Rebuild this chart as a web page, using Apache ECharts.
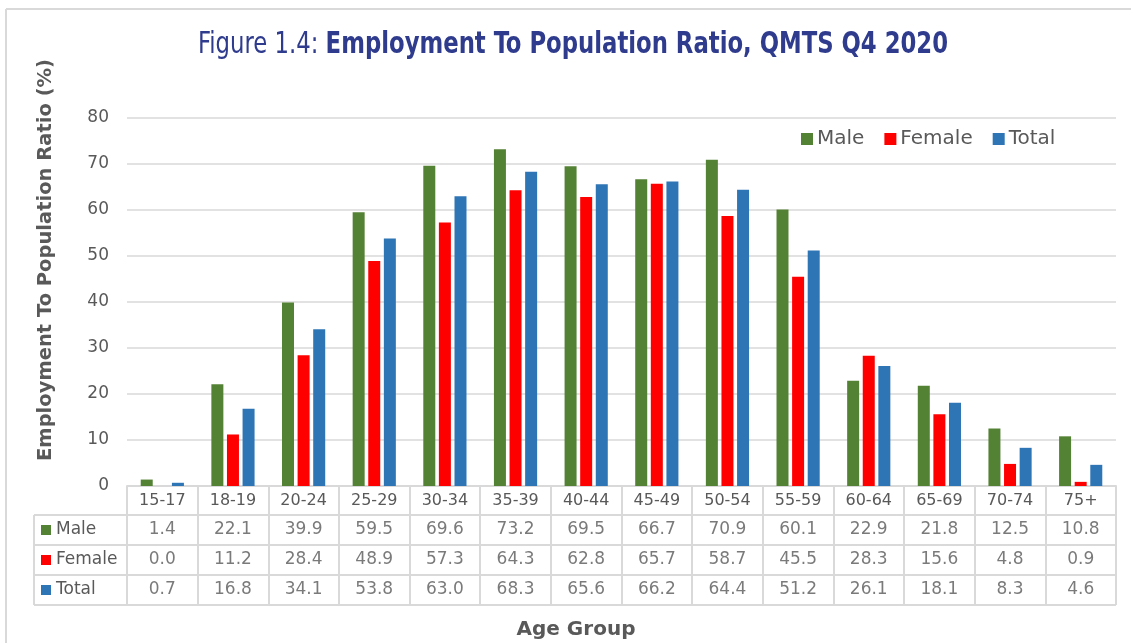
<!DOCTYPE html>
<html>
<head>
<meta charset="utf-8">
<script src="https://cdn.jsdelivr.net/npm/echarts@6/dist/echarts.min.js"></script>
<style>
  html, body { margin: 0; padding: 0; background: #fff; }
  #chart { width: 1131px; height: 643px; }
</style>
</head>
<body>
<div id="chart"></div>
<script>
var ageGroups = ['15-17', '18-19', '20-24', '25-29', '30-34', '35-39', '40-44', '45-49', '50-54', '55-59', '60-64', '65-69', '70-74', '75+'];
var male   = [1.4, 22.1, 39.9, 59.5, 69.6, 73.2, 69.5, 66.7, 70.9, 60.1, 22.9, 21.8, 12.5, 10.8];
var female = [0.0, 11.2, 28.4, 48.9, 57.3, 64.3, 62.8, 65.7, 58.7, 45.5, 28.3, 15.6, 4.8, 0.9];
var total  = [0.7, 16.8, 34.1, 53.8, 63.0, 68.3, 65.6, 66.2, 64.4, 51.2, 26.1, 18.1, 8.3, 4.6];
var seriesNames = ['Male', 'Female', 'Total'];
var yTicks = [0, 10, 20, 30, 40, 50, 60, 70, 80];
var titleLight = 'Figure 1.4: ';
var titleBold = 'Employment To Population Ratio, QMTS Q4 2020';
var yTitle = 'Employment To Population Ratio (%)';
var xTitle = 'Age Group';

var colors = ['#548235', '#FF0000', '#2E75B6'];
var font = 'DejaVu Sans';
var titleFont = '"DejaVu Sans Condensed", "DejaVu Sans"';
var textGray = '#595959';
var lineGray = '#D9D9D9';
var titleBlue = '#2F3C8E';

// layout
var W = 1131, H = 643;
var gLeft = 127, gRight = 15, gTop = 118, axisY = 486;
var headRow = 29, rowH = 30;
var tableTop = axisY + headRow;
var tableBottom = tableTop + rowH * 3;
var headLeft = 34;
var titleSize = 31, titleWidth = 750, titleLeft = 198, titleMid = 45;

// squeeze the title to the narrow width of the original condensed face
var cv = document.createElement('canvas').getContext('2d');
cv.font = titleSize + 'px ' + titleFont;
var wLight = cv.measureText(titleLight).width;
cv.font = 'bold ' + titleSize + 'px ' + titleFont;
var wBold = cv.measureText(titleBold).width;
var titleScale = titleWidth / (wLight + wBold);

var chart = echarts.init(document.getElementById('chart'));

var allVals = [male, female, total];
var cells = [];
for (var r = 0; r < 3; r++) {
	for (var i = 0; i < ageGroups.length; i++) {
		cells.push([i, r, allVals[r][i]]);
	}
}

var rich = {};
seriesNames.forEach(function(n, k){
	rich['sq' + k] = { width: 10, height: 10, backgroundColor: colors[k] };
});
rich.t = { fontFamily: font, fontSize: 17, color: textGray, padding: [0, 0, 0, 5] };

var gfx = [];
for (var k = 0; k <= 3; k++) {
	var y = tableTop + rowH * k;
	gfx.push({ type: 'line', shape: { x1: headLeft, y1: y, x2: W - gRight, y2: y }, style: { stroke: lineGray, lineWidth: 2 }, z: 10 });
}
gfx.push({ type: 'line', shape: { x1: headLeft, y1: tableTop, x2: headLeft, y2: tableBottom }, style: { stroke: lineGray, lineWidth: 2 }, z: 10 });
// outer frame
gfx.push({ type: 'line', shape: { x1: 6, y1: 9, x2: W, y2: 9 }, style: { stroke: lineGray, lineWidth: 2 } });
gfx.push({ type: 'line', shape: { x1: 6, y1: 9, x2: 6, y2: H }, style: { stroke: lineGray, lineWidth: 2 } });
// titles
gfx.push({
	type: 'text', x: titleLeft, y: titleMid, scaleX: titleScale,
	style: {
		text: '{a|' + titleLight + '}{b|' + titleBold + '}',
		verticalAlign: 'middle',
		fill: titleBlue,
		rich: {
			a: { fontFamily: titleFont, fontSize: titleSize, fill: titleBlue },
			b: { fontFamily: titleFont, fontSize: titleSize, fontWeight: 'bold', fill: titleBlue }
		}
	}
});
gfx.push({
	type: 'text', x: 46, y: 260, rotation: Math.PI / 2,
	style: { text: yTitle, align: 'center', verticalAlign: 'middle', fontFamily: font, fontSize: 19.5, fontWeight: 'bold', fill: textGray }
});
gfx.push({
	type: 'text', x: (headLeft + W - gRight) / 2 + 1, y: 630,
	style: { text: xTitle, align: 'center', verticalAlign: 'middle', fontFamily: font, fontSize: 20, fontWeight: 'bold', fill: textGray }
});

var options = {
	animation: false,
	legend: {
		data: seriesNames,
		left: 796,
		top: 124,
		itemWidth: 12,
		itemHeight: 12,
		itemGap: 20,
		icon: 'rect',
		textStyle: { fontFamily: font, fontSize: 20, color: textGray, padding: [0, 0, 0, -1] }
	},
	grid: [
		{ left: gLeft, right: gRight, top: gTop, height: axisY - gTop },
		{ left: gLeft, right: gRight, top: tableTop, height: rowH * 3 }
	],
	xAxis: [
		{
			type: 'category',
			gridIndex: 0,
			data: ageGroups,
			axisLine: { lineStyle: { color: lineGray, width: 2 } },
			axisTick: { show: true, interval: 0, length: headRow, lineStyle: { color: lineGray, width: 2 } },
			axisLabel: { interval: 0, margin: 7, fontFamily: font, fontSize: 16, color: textGray }
		},
		{
			type: 'category',
			gridIndex: 1,
			data: ageGroups,
			axisLine: { show: false },
			axisTick: { show: false },
			axisLabel: { show: false },
			splitLine: { show: true, interval: 0, lineStyle: { color: lineGray, width: 2 } }
		}
	],
	yAxis: [
		{
			type: 'value',
			gridIndex: 0,
			min: 0,
			max: 80,
			interval: 10,
			axisLine: { show: false },
			axisTick: { show: false },
			axisLabel: { margin: 18, fontFamily: font, fontSize: 17, color: textGray,
				formatter: function(v){ return yTicks.indexOf(v) >= 0 ? String(v) : ''; } },
			splitLine: { lineStyle: { color: lineGray, width: 1.5 } }
		},
		{
			type: 'category',
			gridIndex: 1,
			inverse: true,
			data: seriesNames,
			axisLine: { show: false },
			axisTick: { show: false },
			splitLine: { show: false },
			axisLabel: {
				align: 'left',
				margin: gLeft - headLeft - 7,
				formatter: function(v, idx){ return '{sq' + idx + '|}{t|' + v + '}'; },
				rich: rich
			}
		}
	],
	series: [
		{ name: 'Male', type: 'bar', data: male, xAxisIndex: 0, yAxisIndex: 0, barWidth: 12, barGap: '30%', itemStyle: { color: colors[0] } },
		{ name: 'Female', type: 'bar', data: female, xAxisIndex: 0, yAxisIndex: 0, barWidth: 12, barGap: '30%', itemStyle: { color: colors[1] } },
		{ name: 'Total', type: 'bar', data: total, xAxisIndex: 0, yAxisIndex: 0, barWidth: 12, barGap: '30%', itemStyle: { color: colors[2] } },
		{
			type: 'scatter',
			xAxisIndex: 1,
			yAxisIndex: 1,
			data: cells,
			symbolSize: 1,
			itemStyle: { color: 'transparent' },
			silent: true,
			label: {
				show: true,
				position: 'inside',
				fontFamily: font,
				fontSize: 17,
				color: textGray,
				formatter: function(p){ return p.value[2].toFixed(1); }
			}
		}
	],
	graphic: gfx
};

chart.setOption(options);

window.onresize = function(){
	chart.resize();
};
</script>
</body>
</html>
